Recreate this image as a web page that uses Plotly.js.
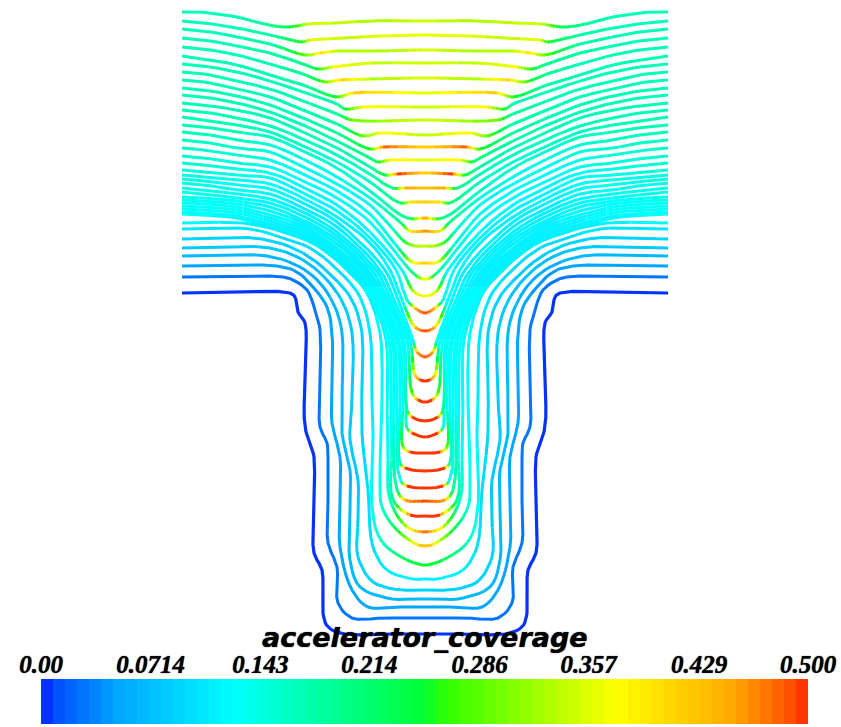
<!DOCTYPE html>
<html><head><meta charset="utf-8">
<script src="https://cdn.plot.ly/plotly-3.0.0.min.js"></script>
<style>html,body{margin:0;padding:0;background:#fff}#chart{width:841px;height:727px}</style>
</head><body><div id="chart"></div>
<script>
const tickValues = [0, 0.0714, 0.143, 0.214, 0.286, 0.357, 0.429, 0.5];
const tickLabels = ['0.00', '0.0714', '0.143', '0.214', '0.286', '0.357', '0.429', '0.500'];
const barTitle = 'accelerator_coverage';
const bandCount = 64;
const valueMax = 0.5;
const centreX = 425;
const colorStops = [[0,[10,30,255]],[0.02,[0,80,255]],[0.1,[0,165,255]],[0.25,[0,255,255]],[0.5,[0,255,50]],[0.53,[50,255,0]],[0.75,[255,255,0]],[0.9,[255,170,0]],[0.97,[255,90,0]],[1,[255,40,0]]];

// left half of each contour, top line first; the film is mirror symmetric about centreX
const contourX = [
[182,198,217,237,260,283,297,308,337,370,425],
[182,204,237,270,287,302,310,345,380,425],
[182,204,237,270,305,320,337,383,425],
[182,204,237,270,303,318,333,373,425],
[182,204,237,270,303,325,340,370,425],
[182,204,237,270,303,337,353,425],
[182,204,237,270,303,337,345,363,425],
[182,204,237,270,303,337,352,425],
[182,204,237,270,303,337,363,380,425],
[182,204,237,270,303,337,370,383,425],
[182,204,237,270,303,337,370,378,390,425],
[182,204,237,270,303,337,370,385,397,425],
[182,204,237,270,303,337,370,392,405,425],
[182,204,237,270,303,337,370,400,410,425],
[182,204,237,270,303,337,370,407,425],
[182,204,237,270,303,337,370,400,410,425],
[182,204,237,270,303,337,370,392,405,415,425],
[182,204,237,270,303,337,370,395,412,425],
[182,204,237,270,303,337,370,395,413,422,425],
[182,204,237,270,303,337,370,402,414,425],
[182,204,237,270,303,337,370,396,407,415,425],
[182,204,237,270,303,337,370,390,402,415,425],
[182,204,237,270,303,337,385,398,413,417,425],
[182,204,237,270,303,337,380,394,410,415,420,425],
[182,204,237,270,303,337,376,391,407,412,418,425],
[182,204,237,270,303,337,372,388,404,407,412,425],
[182,204,237,270,303,337,368,386,402,406,407,412,425],
[182,204,237,270,303,337,365,383,399,403,403,410,425],
[182,204,237,270,303,337,362,381,397,400,400,405,425],
[182,204,237,270,303,337,358,379,394,397,400,407,425],
[182,204,237,270,303,337,355,377,392,394,397,405,425],
[182,204,237,270,303,337,352,374,389,391,392,393,410,425],
[182,204,237,270,303,337,350,372,386,387,388,390,407,425],
[182,243,283,320,347,367,380,382,380,382,397,418,425],
[182,250,280,310,340,360,370,372,373,373,383,407,422,425],
[182,262,303,333,352,362,362,362,368,373,387,413,425],
[182,270,303,327,343,352,352,350,358,358,358,373,400,415,425],
[182,267,300,320,335,342,342,342,350,350,350,360,392,410,425],
[182,277,297,313,327,332,332,332,340,340,340,352,368,395,425],
[182,283,293,307,315,320,320,320,327,328,328,328,337,338,352,385,425],
[182,290,295,298,305,305,305,310,314,314,314,322,323,328,345,385,425]
];
const contourY = [
[12,12,14,17,23,27,26,24,23,21,21],
[21,23,28,35,39,42,40,38,36,35],
[29,31,37,44,55,53,51,51,50],
[38,40,46,53,64,69,67,63,63],
[47,49,55,64,74,82,80,79,78],
[56,59,65,75,85,97,93,93],
[64,66,72,81,92,104,109,107,107],
[72,74,81,89,101,114,120,120],
[80,82,89,97,110,124,136,133,135],
[88,90,96,105,118,133,149,147,147],
[95,97,103,112,125,141,158,162,160,160],
[103,105,110,118,132,148,167,175,174,173],
[110,112,118,126,139,155,174,188,188,188],
[117,120,125,132,146,162,182,203,202,202],
[125,127,132,137,151,168,191,218,218],
[132,134,140,145,159,177,198,222,231,231],
[140,142,148,152,167,184,205,228,242,246,246],
[148,150,155,160,174,191,214,244,262,263],
[156,158,163,167,181,198,222,252,273,279,279],
[163,165,169,173,187,205,232,270,292,296],
[170,172,175,178,193,211,238,270,300,308,313],
[175,177,180,184,198,217,243,270,300,327,331],
[179,181,185,189,203,222,270,300,340,352,357],
[183,185,190,194,208,227,270,300,340,375,380,381],
[188,190,194,199,212,232,270,300,340,393,400,402],
[192,194,198,203,216,236,270,300,340,410,417,421],
[197,198,201,207,220,240,270,300,340,400,428,433,437],
[200,201,204,211,223,244,270,300,340,400,447,452,453],
[203,204,207,215,226,248,270,300,340,400,463,468,471],
[206,207,210,218,229,251,270,300,340,400,480,486,488],
[209,210,213,221,232,254,270,300,340,400,490,500,501],
[212,213,216,224,235,257,270,300,340,400,450,500,515,516],
[214,215,218,227,237,260,270,300,340,400,450,500,527,532],
[223,223,232,247,270,293,333,400,477,507,530,545,546],
[229,229,237,248,272,297,333,400,433,517,543,560,565,565],
[239,239,253,277,300,333,380,433,490,547,570,579,579],
[248,248,260,280,303,333,400,440,480,520,557,582,590,590,590],
[256,256,267,283,307,333,400,433,470,510,560,587,599,599,599],
[266,266,272,287,307,333,380,423,457,500,547,590,607,607,607],
[277,277,280,290,310,330,380,427,443,460,500,543,567,603,618,618,618],
[293,293,297,312,323,370,427,443,457,500,553,570,613,627,634,634,634]
];
const contourV = [
[.17,.17,.17,.17,.18,.22,.27,.35,.34,.33,.35],
[.17,.17,.17,.18,.22,.26,.36,.34,.36,.36],
[.17,.17,.17,.18,.30,.40,.33,.33,.36],
[.17,.17,.17,.18,.19,.26,.37,.34,.35],
[.17,.17,.17,.17,.19,.30,.41,.33,.36],
[.17,.17,.17,.17,.18,.27,.42,.35],
[.17,.17,.17,.17,.17,.18,.25,.38,.34],
[.17,.17,.17,.17,.17,.19,.30,.36],
[.17,.17,.17,.17,.17,.18,.30,.38,.33],
[.17,.17,.17,.17,.17,.19,.27,.48,.40],
[.17,.17,.17,.17,.17,.18,.20,.25,.38,.36],
[.17,.17,.17,.17,.17,.17,.18,.25,.50,.40],
[.17,.17,.17,.17,.16,.16,.17,.20,.45,.42],
[.17,.17,.17,.16,.16,.15,.16,.22,.40,.42],
[.17,.165,.165,.16,.15,.15,.16,.20,.50],
[.165,.165,.16,.15,.14,.14,.15,.20,.40,.47],
[.16,.16,.155,.145,.135,.13,.14,.16,.26,.33,.34],
[.16,.155,.15,.14,.13,.13,.135,.15,.38,.43],
[.155,.15,.145,.135,.125,.125,.13,.14,.20,.37,.37],
[.15,.15,.14,.13,.12,.12,.125,.13,.36,.37],
[.15,.145,.14,.13,.12,.12,.12,.125,.14,.45,.50],
[.145,.14,.135,.125,.12,.115,.115,.12,.13,.45,.50],
[.145,.14,.135,.125,.115,.115,.115,.12,.14,.46,.50],
[.14,.14,.13,.12,.115,.115,.115,.12,.125,.42,.50,.50],
[.14,.135,.13,.12,.115,.115,.115,.12,.125,.30,.50,.50],
[.14,.135,.125,.12,.115,.115,.115,.12,.125,.20,.50,.50],
[.14,.13,.125,.12,.115,.115,.115,.12,.125,.13,.16,.50,.50],
[.135,.13,.125,.12,.115,.115,.115,.12,.125,.13,.30,.50,.50],
[.135,.13,.125,.12,.115,.115,.115,.12,.125,.13,.18,.50,.50],
[.13,.13,.125,.115,.11,.115,.115,.12,.125,.13,.14,.50,.50],
[.13,.13,.125,.115,.11,.115,.115,.12,.125,.13,.20,.46,.50],
[.13,.125,.12,.115,.11,.115,.115,.12,.125,.13,.14,.20,.50,.50],
[.125,.125,.12,.11,.11,.11,.115,.12,.125,.13,.14,.16,.36,.50],
[.12,.115,.11,.11,.11,.115,.12,.125,.13,.15,.25,.42,.43],
[.105,.105,.10,.10,.10,.105,.105,.11,.115,.13,.17,.24,.25,.25],
[.09,.09,.085,.085,.09,.09,.09,.09,.10,.10,.11,.115,.115],
[.08,.08,.075,.075,.08,.08,.08,.08,.085,.085,.09,.09,.09,.09,.09],
[.065,.065,.06,.06,.065,.065,.065,.065,.07,.07,.07,.07,.07,.07,.07],
[.05,.05,.045,.045,.05,.05,.05,.05,.05,.05,.05,.05,.05,.05,.05],
[.03,.03,.03,.03,.03,.03,.03,.03,.03,.03,.03,.03,.03,.03,.03,.03,.03],
[0,0,0,0,0,0,0,0,0,0,0,0,0,0,0,0,0]
];

function bandOf(v){ return Math.min(bandCount-1, Math.floor(v/valueMax*bandCount)); }
function colorAt(t){
  for(let i=1;i<colorStops.length;i++){
    if(t<=colorStops[i][0]){
      const a=colorStops[i-1], b=colorStops[i], f=(t-a[0])/(b[0]-a[0]);
      return 'rgb('+a[1].map((c,k)=>Math.round(c+(b[1][k]-c)*f)).join(',')+')';
    }
  }
  return 'rgb(255,40,0)';
}
// centripetal spline drawn through the read points, so the contour stays round between them
function curveSamples(xs,ys,vs){
  const n=xs.length, out=[], steps=5;
  const P=i=> i<0 ? [2*xs[0]-xs[1],2*ys[0]-ys[1]] : i>=n ? [2*centreX-xs[n-2],ys[n-2]] : [xs[i],ys[i]];
  const T=(a,b,t)=>t+Math.max(0.01,Math.sqrt(Math.hypot(b[0]-a[0],b[1]-a[1])));
  const lerp=(a,b,ta,tb,t)=>[0,1].map(k=>(tb-t)/(tb-ta)*a[k]+(t-ta)/(tb-ta)*b[k]);
  for(let i=0;i<n-1;i++){
    const p0=P(i-1),p1=P(i),p2=P(i+1),p3=P(i+2);
    const t0=0,t1=T(p0,p1,t0),t2=T(p1,p2,t1),t3=T(p2,p3,t2);
    for(let s=0;s<steps;s++){
      const f=s/steps, t=t1+(t2-t1)*f;
      const a1=lerp(p0,p1,t0,t1,t),a2=lerp(p1,p2,t1,t2,t),a3=lerp(p2,p3,t2,t3,t);
      const b1=lerp(a1,a2,t0,t2,t),b2=lerp(a2,a3,t1,t3,t);
      const c=lerp(b1,b2,t1,t2,t);
      out.push([c[0],c[1],vs[i]+(vs[i+1]-vs[i])*f]);
    }
  }
  out.push([xs[n-1],ys[n-1],vs[n-1]]);
  return out;
}
const segX = {}, segY = {};
function addRun(band,run,s){
  const X=segX[band]=segX[band]||[], Y=segY[band]=segY[band]||[];
  run.forEach(p=>{X.push(centreX+s*(p[0]-centreX));Y.push(p[1]);});
  X.push(null);Y.push(null);
}
contourX.forEach((xs,c)=>{
  const pts=curveSamples(xs,contourY[c],contourV[c]);
  [1,-1].forEach(s=>{
    let band=bandOf(pts[0][2]), run=[pts[0]];
    for(let i=1;i<pts.length;i++){
      const b=bandOf(pts[i][2]);
      run.push(pts[i]);
      if(b!==band){ addRun(band,run,s); band=b; run=[pts[i]]; }
    }
    if(run.length>1) addRun(band,run,s);
  });
});
const traces = Object.keys(segX).map(b=>({
  type:'scatter', mode:'lines', x:segX[b], y:segY[b], hoverinfo:'skip', showlegend:false, connectgaps:false,
  line:{color:colorAt((+b+0.5)/bandCount), width:+b===0?3.2:3}
}));
const bandCentres=[];
for(let i=0;i<bandCount;i++) bandCentres.push((i+0.5)/bandCount*valueMax);
traces.push({type:'heatmap', x:bandCentres, y:[0.5], z:[bandCentres], xaxis:'x2', yaxis:'y2',
  zmin:0, zmax:valueMax, showscale:false, hoverinfo:'skip',
  colorscale:colorStops.map(s=>[s[0],'rgb('+s[1].join(',')+')'])});

const layout = {
  width:841, height:727, margin:{l:0,r:0,t:0,b:0}, paper_bgcolor:'#fff', plot_bgcolor:'rgba(0,0,0,0)', showlegend:false,
  xaxis:{range:[0,841], domain:[0,1], visible:false, fixedrange:true},
  yaxis:{range:[727,0], domain:[0,1], visible:false, fixedrange:true},
  xaxis2:{range:[0,valueMax], domain:[41/841,808/841], anchor:'y2', side:'top', tickmode:'array', tickvals:tickValues, ticktext:tickLabels,
    ticks:'', showgrid:false, zeroline:false, showline:false, ticklabelstandoff:0, tickangle:0,
    tickfont:{family:'"Liberation Serif", serif', size:25, color:'#000', weight:'bold', style:'italic', shadow:'0 0 1px #000'}},
  yaxis2:{range:[0,1], domain:[3/727,48/727], anchor:'x2', visible:false},
  annotations:[{xref:'x', yref:'y', x:425, y:637, text:barTitle, showarrow:false, xanchor:'center', yanchor:'middle',
    font:{family:'"DejaVu Sans", sans-serif', size:27, color:'#000', weight:'bold', style:'italic', shadow:'0 0 1px #000'}}]
};
Plotly.newPlot('chart', traces, layout, {staticPlot:true, displayModeBar:false});
</script></body></html>
